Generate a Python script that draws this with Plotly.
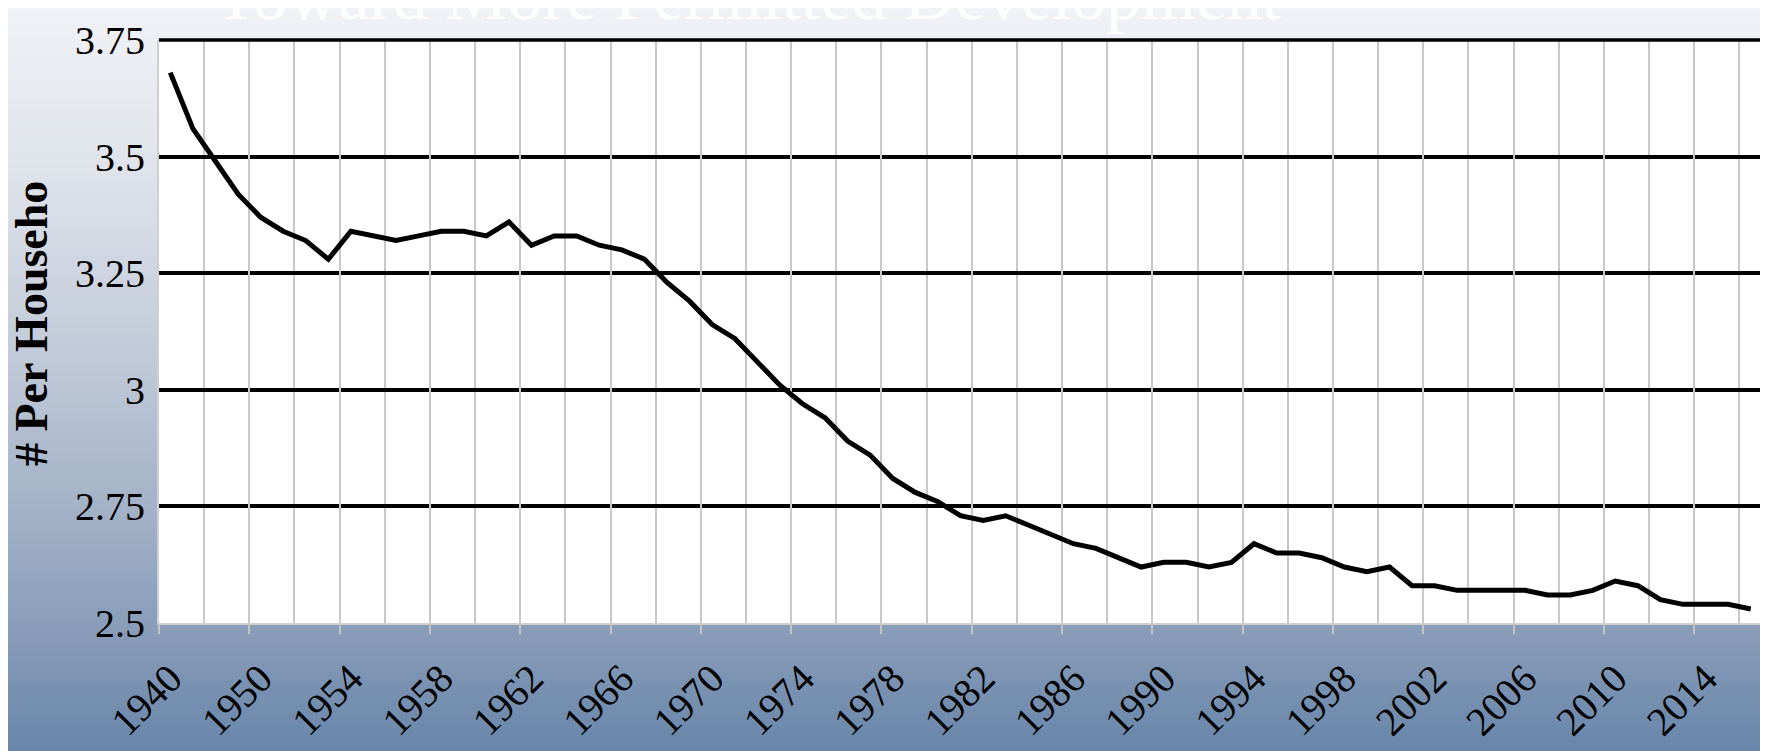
import base64
import struct
import zlib
import plotly.graph_objects as go

# ---------------- data ----------------
years = ["1940", "1947", "1948", "1949", "1950", "1951", "1952", "1953", "1954", "1955",
         "1956", "1957", "1958", "1959", "1960", "1961", "1962", "1963", "1964", "1965",
         "1966", "1967", "1968", "1969", "1970", "1971", "1972", "1973", "1974", "1975",
         "1976", "1977", "1978", "1979", "1980", "1981", "1982", "1983", "1984", "1985",
         "1986", "1987", "1988", "1989", "1990", "1991", "1992", "1993", "1994", "1995",
         "1996", "1997", "1998", "1999", "2000", "2001", "2002", "2003", "2004", "2005",
         "2006", "2007", "2008", "2009", "2010", "2011", "2012", "2013", "2014", "2015",
         "2016"]
persons_per_household = [3.68, 3.56, 3.49, 3.42, 3.37, 3.34, 3.32, 3.28, 3.34, 3.33,
                         3.32, 3.33, 3.34, 3.34, 3.33, 3.36, 3.31, 3.33, 3.33, 3.31,
                         3.30, 3.28, 3.23, 3.19, 3.14, 3.11, 3.06, 3.01, 2.97, 2.94,
                         2.89, 2.86, 2.81, 2.78, 2.76, 2.73, 2.72, 2.73, 2.71, 2.69,
                         2.67, 2.66, 2.64, 2.62, 2.63, 2.63, 2.62, 2.63, 2.67, 2.65,
                         2.65, 2.64, 2.62, 2.61, 2.62, 2.58, 2.58, 2.57, 2.57, 2.57,
                         2.57, 2.56, 2.56, 2.57, 2.59, 2.58, 2.55, 2.54, 2.54, 2.54,
                         2.53]
x_tick_labels = ["1940", "1950", "1954", "1958", "1962", "1966", "1970", "1974", "1978",
                 "1982", "1986", "1990", "1994", "1998", "2002", "2006", "2010", "2014"]
y_tick_values = [2.5, 2.75, 3.0, 3.25, 3.5, 3.75]
y_tick_labels = ["2.5", "2.75", "3", "3.25", "3.5", "3.75"]
chart_title = "Toward More Permitted Development"
y_title = "# Per Househo"

# ---------------- layout geometry ----------------
W, H = 1768, 751
ML, MR, MT, MB = 151, 14, 32, 136
PW, PH = W - ML - MR, H - MT - MB
FONT = "Liberation Serif"

xs = list(range(len(years)))
n = len(years)
x_range = [-0.5, n - 0.5]
y_range = [y_tick_values[0], y_tick_values[-1]]
label_pos = [years.index(t) for t in x_tick_labels]
# category boundaries: gridlines every 2 categories, tick marks every 4
boundary_ticks = [b - 0.5 for b in range(0, n, 4)]
boundary_minor = [b - 0.5 for b in range(2, n, 4)]


# ---------------- background gradient image ----------------
def lerp_stops(stops, y):
    for (y0, c0), (y1, c1) in zip(stops, stops[1:]):
        if y0 <= y <= y1:
            t = (y - y0) / (y1 - y0)
            return tuple(int(round(a + (b - a) * t)) for a, b in zip(c0, c1))
    return stops[-1][1]


grad_stops = [(0, (240, 242, 246)), (170, (222, 226, 234)), (340, (194, 203, 217)),
              (500, (163, 178, 199)), (630, (135, 155, 184)), (751, (101, 132, 168))]


def png_uri(rows, w=4):
    raw = b"".join(b"\x00" + bytes(c) * w for c in rows)

    def chunk(t, d):
        return struct.pack(">I", len(d)) + t + d + struct.pack(">I", zlib.crc32(t + d) & 0xffffffff)

    png = (b"\x89PNG\r\n\x1a\n"
           + chunk(b"IHDR", struct.pack(">IIBBBBB", w, len(rows), 8, 2, 0, 0, 0))
           + chunk(b"IDAT", zlib.compress(raw))
           + chunk(b"IEND", b""))
    return "data:image/png;base64," + base64.b64encode(png).decode()


bg_rows = [lerp_stops(grad_stops, y + 0.5) for y in range(H)]
bg_uri = png_uri(bg_rows)

# ---------------- figure ----------------
fig = go.Figure()
# invisible traces so the overlay axes are active
fig.add_trace(go.Scatter(x=[xs[0]], y=[persons_per_household[0]], xaxis="x2", yaxis="y",
                         mode="markers", marker=dict(opacity=0), showlegend=False,
                         hoverinfo="skip"))
fig.add_trace(go.Scatter(x=[xs[0]], y=[persons_per_household[0]], xaxis="x", yaxis="y2",
                         mode="markers", marker=dict(opacity=0), showlegend=False,
                         hoverinfo="skip"))
fig.add_trace(go.Scatter(
    x=xs, y=persons_per_household, mode="lines",
    line=dict(color="black", width=5), showlegend=False, hoverinfo="skip"))

fig.update_layout(
    width=W, height=H,
    margin=dict(l=ML, r=MR, t=MT, b=MB, autoexpand=False),
    paper_bgcolor="rgb(240,242,246)",
    plot_bgcolor="rgba(0,0,0,0)",
    font=dict(family=FONT, color="black"),
    xaxis=dict(
        range=x_range, showgrid=False, zeroline=False,
        tickmode="array", tickvals=label_pos, ticktext=x_tick_labels,
        tickangle=-45, ticks="", ticklabelstandoff=14,
        tickfont=dict(family=FONT, size=40, color="black"),
        showline=True, linecolor="#cfcfcf", linewidth=2, automargin=False,
    ),
    xaxis2=dict(
        overlaying="x", anchor="y", side="bottom", range=x_range,
        tickmode="array", tickvals=boundary_ticks, showticklabels=False,
        ticks="outside", ticklen=10, tickwidth=1.5, tickcolor="#c4c4c4",
        showgrid=True, gridcolor="#c8c8c8", gridwidth=1.5, zeroline=False,
        minor=dict(tickmode="array", tickvals=boundary_minor, ticks="",
                   showgrid=True, gridcolor="#c8c8c8", gridwidth=1.5),
        showline=False, automargin=False,
    ),
    yaxis=dict(
        range=y_range, tickmode="array", tickvals=y_tick_values, ticktext=y_tick_labels,
        ticks="", ticklabelstandoff=4, showgrid=False, zeroline=False,
        tickfont=dict(family=FONT, size=40, color="black"),
        showline=True, linecolor="#cfcfcf", linewidth=2, automargin=False,
    ),
    yaxis2=dict(
        overlaying="y", anchor="x", side="left", range=y_range,
        tickmode="array", tickvals=y_tick_values[1:], showticklabels=False, ticks="",
        showgrid=True, gridcolor="black", gridwidth=3.5, zeroline=False,
        showline=False, automargin=False,
    ),
    images=[dict(source=bg_uri, xref="paper", yref="paper",
                 x=-ML / PW, y=1 + MT / PH, sizex=W / PW, sizey=H / PH,
                 xanchor="left", yanchor="top", sizing="stretch", layer="below")],
    shapes=[
        dict(type="rect", xref="paper", yref="paper", x0=0, x1=1, y0=0, y1=1,
             fillcolor="white", line=dict(width=0), layer="below"),
        # top major gridline at the top of the value range (plotly omits edge gridlines)
        dict(type="line", xref="paper", yref="paper", x0=0, x1=1, y0=1, y1=1,
             line=dict(color="black", width=3.5), layer="above"),
    ],
    annotations=[
        dict(text=chart_title, xref="paper", yref="paper",
             x=(740 - ML) / PW, y=1 + (MT - 28) / PH, xanchor="center", yanchor="bottom",
             showarrow=False, font=dict(family=FONT, size=70, color="white")),
        dict(text="<b>" + y_title + "</b>", xref="paper", yref="paper",
             x=(23 - ML) / PW, y=1 - (316 - MT) / PH, xanchor="center", yanchor="middle",
             textangle=-90, showarrow=False, font=dict(family=FONT, size=46, color="black")),
    ],
)

fig.write_html("out.html")
